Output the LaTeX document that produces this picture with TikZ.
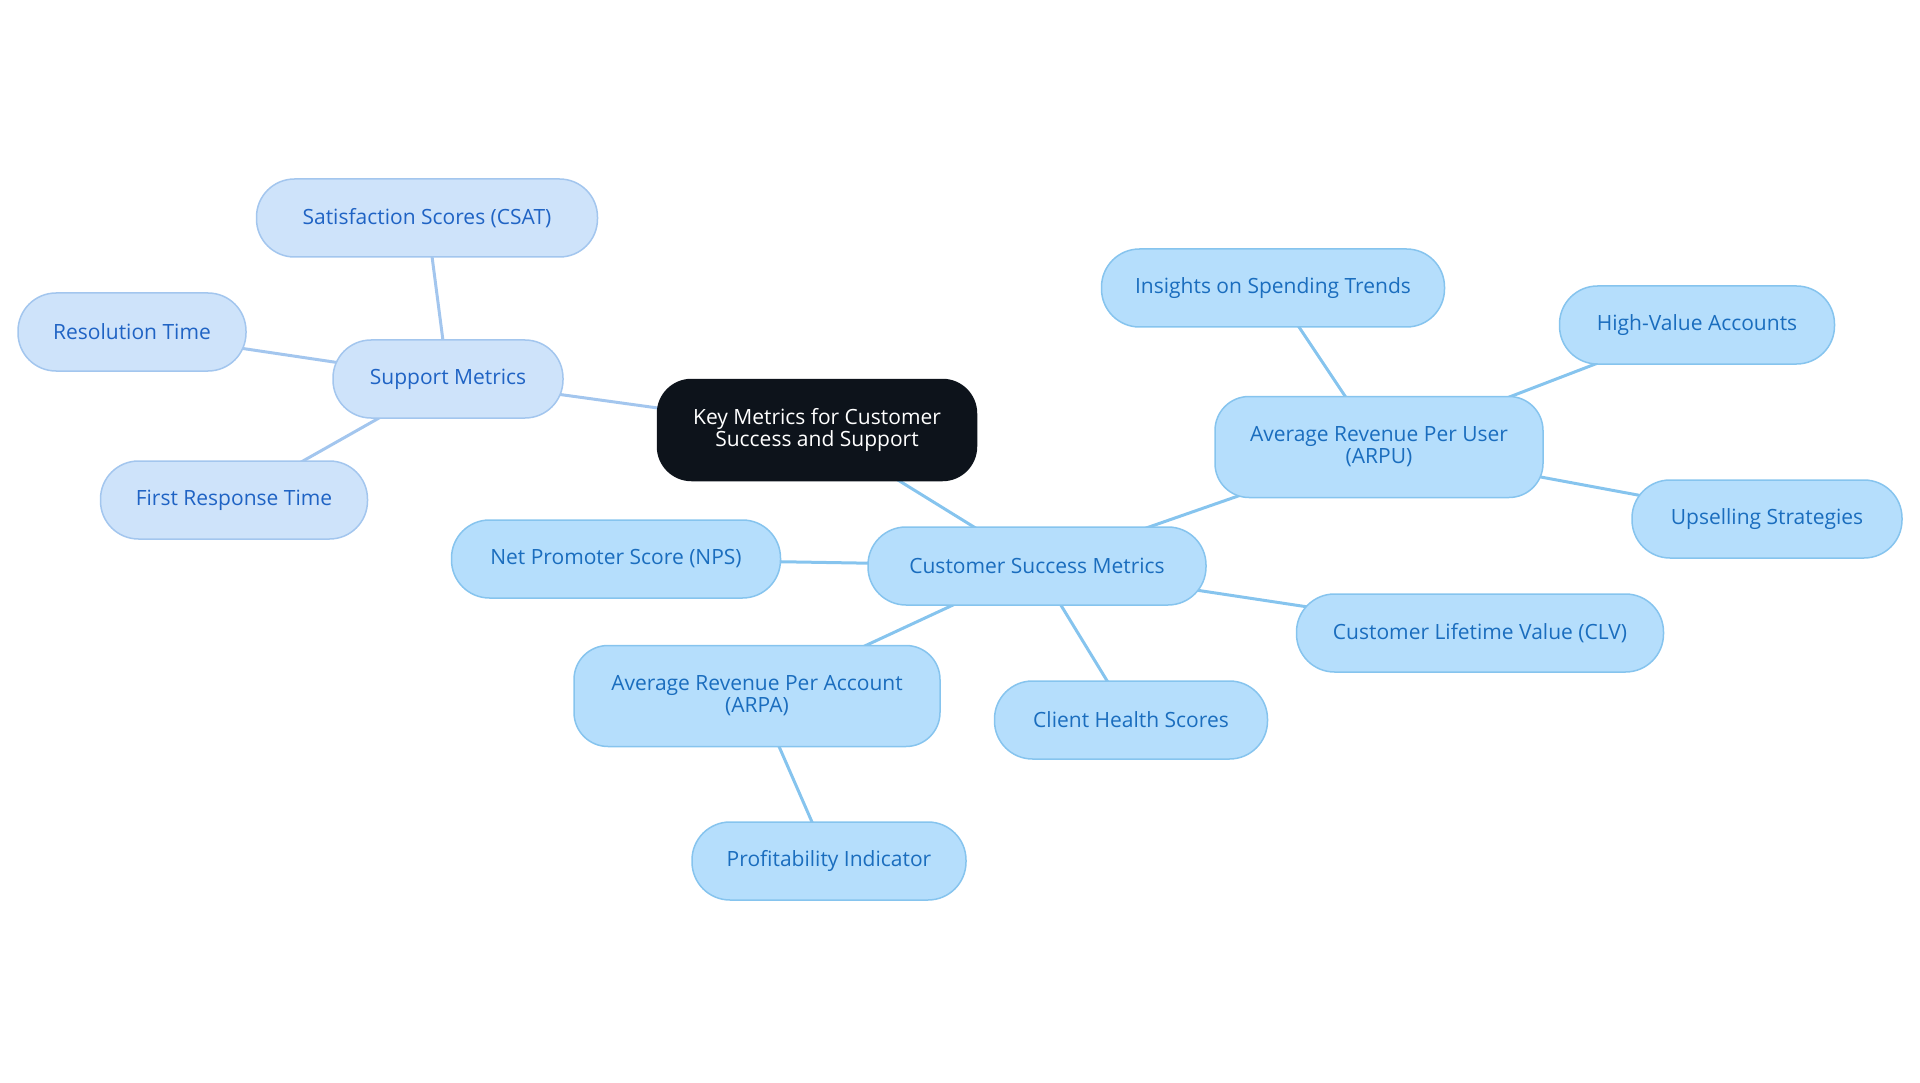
\documentclass[tikz,border=0pt]{standalone}
\usepackage{fontspec}
\setmainfont{Open Sans}
\usepackage{xcolor}
\usetikzlibrary{backgrounds}
\definecolor{hubfill}{HTML}{0D131B}
\definecolor{supfill}{HTML}{CEE3FA}
\definecolor{supline}{HTML}{A3C6EE}
\definecolor{suptext}{HTML}{1F63C4}
\definecolor{csfill}{HTML}{B5DEFC}
\definecolor{csline}{HTML}{86C4EE}
\definecolor{cstext}{HTML}{1A6DBE}

\begin{document}
\begin{tikzpicture}[x=1pt, y=-1pt, font=\fontsize{21}{22}\selectfont,
  box/.style={draw, line width=1.5pt, rounded corners=38pt, minimum height=78pt, align=center, inner sep=0pt},
  sup/.style={box, fill=supfill, draw=supline, text=suptext},
  cs/.style={box, fill=csfill, draw=csline, text=cstext},
  two/.style={minimum height=101pt, rounded corners=34pt},
  suplink/.style={draw=supline, line width=3pt},
  cslink/.style={draw=csline, line width=3pt}]
\useasboundingbox (0,0) rectangle (1920,1083);
% hub
\node[box, two, fill=hubfill, draw=hubfill, text=white, minimum width=319pt] (hub) at (817,430) {Key Metrics for Customer\\Success and Support};
% support branch
\node[sup, minimum width=230pt] (support) at (448,379) {Support Metrics};
\node[sup, minimum width=341pt] (csat) at (427,218) {Satisfaction Scores (CSAT)};
\node[sup, minimum width=228pt] (resol) at (132,332) {Resolution Time};
\node[sup, minimum width=267pt] (frt) at (234,500) {First Response Time};
% customer success branch
\node[cs, minimum width=338pt] (csm) at (1037,566) {Customer Success Metrics};
\node[cs, minimum width=329pt] (nps) at (616,559) {Net Promoter Score (NPS)};
\node[cs, two, minimum width=366pt] (arpa) at (757,696) {Average Revenue Per Account\\(ARPA)};
\node[cs, minimum width=274pt] (profit) at (829,861) {Profitability Indicator};
\node[cs, minimum width=273pt] (health) at (1131,720) {Client Health Scores};
\node[cs, minimum width=367pt] (clv) at (1480,633) {Customer Lifetime Value (CLV)};
\node[cs, two, minimum width=328pt] (arpu) at (1379,447) {Average Revenue Per User\\(ARPU)};
\node[cs, minimum width=343pt] (trends) at (1273,288) {Insights on Spending Trends};
\node[cs, minimum width=275pt] (highval) at (1697,325) {High-Value Accounts};
\node[cs, minimum width=270pt] (upsell) at (1767,519) {Upselling Strategies};
% links, behind the boxes
\begin{scope}[on background layer]
\foreach \a/\b in {hub/support, support/csat, support/resol, support/frt}
  \path[suplink] (\a.center) -- (\b.center);
\foreach \a/\b in {hub/csm, csm/nps, csm/arpa, arpa/profit, csm/health, csm/clv, csm/arpu, arpu/trends, arpu/highval, arpu/upsell}
  \path[cslink] (\a.center) -- (\b.center);
\end{scope}
\end{tikzpicture}
\end{document}
